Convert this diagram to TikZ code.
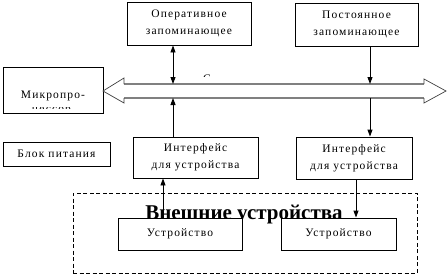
\documentclass[tikz,border=0pt]{standalone}
\usepackage{fontspec}
\setmainfont{Liberation Serif}
\usetikzlibrary{arrows.meta}
\newcommand\lbl{\fontsize{11.5}{17}\selectfont\addfontfeature{LetterSpace=10}}
\begin{document}
\begin{tikzpicture}[x=1pt,y=-1pt,
  box/.style = {draw, line width=0.9pt, fill=white, inner sep=0pt, align=center, font=\lbl},
  tip/.style = {line width=0.9pt, -{Triangle[width=5pt,length=7pt]}},
  tips/.style = {line width=0.9pt, {Triangle[width=5pt,length=7pt]}-{Triangle[width=5pt,length=7pt]}},
  busline/.style = {draw=gray, line width=1.8pt},
  bushead/.style = {draw=black!75, line width=0.7pt}]
\useasboundingbox (0,0) rectangle (447,276);
% memory blocks and processor
\node[box, minimum width=124, minimum height=43] (op) at (189,23.5) {Оперативное\\запоминающее};
\node[box, minimum width=123, minimum height=43] (rom) at (356.5,24.5) {Постоянное\\запоминающее};
\node[box, minimum width=100, minimum height=46] (cpu) at (53,90) {};
\node[anchor=base, font=\lbl] (cputxt) at (53,98.5) {Микропро-};
\begin{scope} \clip (25,107) rectangle (80,108.7); \node[anchor=base, font=\lbl] (cputxt2) at (51.5,112.5) {цессор}; \end{scope}
% bus
\coordinate (busL) at (103,91); \coordinate (busR) at (446,91);
\draw[busline] (124,84) -- (424,84); \draw[busline] (124,98) -- (424,98);
\draw[bushead] (124,84) -- (124,78) -- (busL) -- (124,103) -- (124,98);
\draw[bushead] (424,84) -- (424,79) -- (busR) -- (424,103) -- (424,98);
\begin{scope} \clip (202,73) rectangle (213,76.5); \node[anchor=base, font=\lbl] (busname) at (207,82) {С}; \end{scope}
% lower blocks
\node[box, minimum width=107, minimum height=24] (pwr) at (56.5,154) {Блок питания};
\node[box, minimum width=125, minimum height=41] (ifl) at (195.5,157.5) {Интерфейс\\для устройства};
\node[box, minimum width=116, minimum height=42] (ifr) at (354,158) {Интерфейс\\для устройства};
\node[draw, line width=0.9pt, dash pattern=on 4pt off 2.5pt, minimum width=344, minimum height=80] (ext) at (245,233) {};
\node[anchor=base, font=\fontsize{21}{24}\selectfont\bfseries] (exttxt) at (244,219.5) {Внешние устройства};
\node[box, minimum width=124, minimum height=32] (devl) at (180,234) {Устройство};
\node[box, minimum width=115, minimum height=32] (devr) at (338.5,234) {Устройство};
% connections
\coordinate (opB) at (173,84); \coordinate (iflB) at (173,98); \coordinate (romB) at (370,84); \coordinate (ifrB) at (370,98);
\draw[tips] (op.south -| opB) -- (opB); \draw[tip] (ifl.north -| iflB) -- (iflB);
\draw[tip] (rom.south -| romB) -- (romB); \draw[tip] (ifrB) -- (ifr.north -| ifrB);
\draw[tip] ([xshift=-17]devl.north) -- ([xshift=-17]devl.north |- ifl.south);
\draw[tip] ([xshift=2]ifr.south) -- ([xshift=2]ifr.south |- devr.north);
\end{tikzpicture}
\end{document}
